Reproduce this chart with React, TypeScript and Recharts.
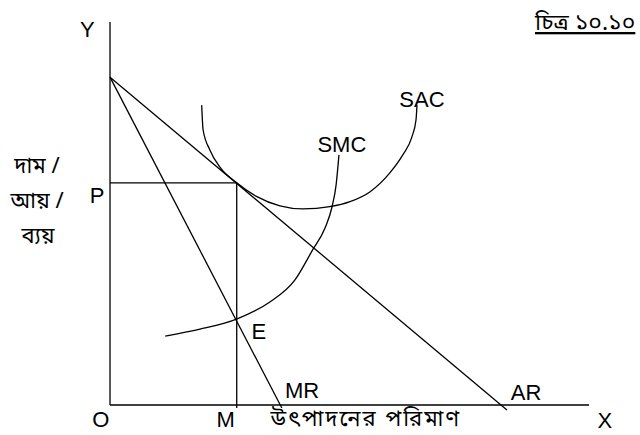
import React from 'react';
import { LineChart, Line, XAxis, YAxis, ReferenceDot } from 'recharts';

// quantity on x, price / revenue / cost on y (drawing units)
const yAxisLine = [
  { x: 0, y: 0 },
  { x: 0, y: 100 },
];
const xAxisLine = [
  { x: 0, y: 0 },
  { x: 99.8, y: 0 },
];
const arLine = [
  { x: 0, y: 85.6 },
  { x: 82.7, y: -1.3 },
];
const mrLine = [
  { x: 0, y: 85.6 },
  { x: 35.8, y: -0.8 },
];
const priceLine = [
  { x: 0, y: 58.0 },
  { x: 26.4, y: 58.0 },
];
const quantityLine = [
  { x: 26.4, y: 58.0 },
  { x: 26.4, y: -0.8 },
];
const sacCurve = [
  { x: 19.1, y: 78.3 },
  { x: 19.4, y: 71.8 },
  { x: 20.8, y: 66.6 },
  { x: 22.9, y: 62.1 },
  { x: 26.4, y: 58.0 },
  { x: 30.6, y: 54.4 },
  { x: 35.4, y: 52.0 },
  { x: 40.2, y: 51.2 },
  { x: 45.8, y: 51.8 },
  { x: 50.0, y: 53.1 },
  { x: 54.2, y: 55.7 },
  { x: 58.3, y: 60.6 },
  { x: 61.0, y: 65.3 },
  { x: 62.9, y: 70.0 },
  { x: 63.75, y: 74.4 },
  { x: 63.96, y: 78.3 },
];
const smcCurve = [
  { x: 11.5, y: 18.0 },
  { x: 18.75, y: 19.8 },
  { x: 26.5, y: 22.5 },
  { x: 33.3, y: 26.9 },
  { x: 38.5, y: 32.6 },
  { x: 42.3, y: 40.7 },
  { x: 44.8, y: 46.2 },
  { x: 46.25, y: 51.7 },
  { x: 47.1, y: 57.4 },
  { x: 47.7, y: 65.3 },
];

const LATIN = "'Liberation Sans', Arial, sans-serif";
const BENGALI = "'Noto Sans Bengali', 'Noto Serif Bengali', 'Lohit Bengali', sans-serif";

const labels = [
  { text: 'Y', x: -4.7, y: 96.1, size: 22, font: LATIN },
  { text: 'SAC', x: 65, y: 77.8, size: 22, font: LATIN },
  { text: 'SMC', x: 48.3, y: 66.1, size: 22, font: LATIN },
  { text: 'P', x: -2.7, y: 52.7, size: 22, font: LATIN },
  { text: 'E', x: 31.0, y: 17.2, size: 22, font: LATIN },
  { text: 'MR', x: 40, y: 1.8, size: 22, font: LATIN },
  { text: 'AR', x: 86.7, y: 1.3, size: 22, font: LATIN },
  { text: 'O', x: -1.9, y: -5.7, size: 22, font: LATIN },
  { text: 'M', x: 24.1, y: -5.7, size: 22, font: LATIN },
  { text: 'X', x: 103.1, y: -6.0, size: 22, font: LATIN },
  { text: 'চিত্র ১০.১০', x: 99, y: 97.9, size: 23, font: BENGALI, underline: true },
  { text: 'দাম /', x: -15.2, y: 60.6, size: 22, font: BENGALI },
  { text: 'আয় /', x: -15.2, y: 51.4, size: 22, font: BENGALI },
  { text: 'ব্যয়', x: -15, y: 42.3, size: 22, font: BENGALI },
  { text: 'উৎপাদনের পরিমাণ', x: 53.3, y: -5.4, size: 22, font: BENGALI, spacing: 2 },
];

const X_DOMAIN = [-22.92, 110.42];
const Y_DOMAIN = [-7.83, 105.74];

const straight = [yAxisLine, xAxisLine, arLine, mrLine, priceLine, quantityLine];
const curves = [sacCurve, smcCurve];

export default function App() {
  return (
    <div style={{ position: 'absolute', left: 0, top: 0, width: 640, height: 435, background: '#fff' }}>
      <LineChart width={640} height={435} margin={{ top: 0, right: 0, bottom: 0, left: 0 }}>
        <XAxis type="number" dataKey="x" domain={X_DOMAIN} allowDataOverflow hide />
        <YAxis type="number" dataKey="y" domain={Y_DOMAIN} allowDataOverflow hide />
        {straight.map((d, i) => (
          <Line
            key={`seg-${i}`}
            data={d}
            dataKey="y"
            type="linear"
            stroke="#000"
            strokeWidth={1.3}
            dot={false}
            activeDot={false}
            isAnimationActive={false}
          />
        ))}
        {curves.map((d, i) => (
          <Line
            key={`curve-${i}`}
            data={d}
            dataKey="y"
            type="monotone"
            stroke="#000"
            strokeWidth={1.3}
            dot={false}
            activeDot={false}
            isAnimationActive={false}
          />
        ))}
        {labels.map((l, i) => (
          <ReferenceDot
            key={`lab-${i}`}
            x={l.x}
            y={l.y}
            r={0}
            ifOverflow="visible"
            shape={(p: any) => (
              <text
                x={p.cx}
                y={p.cy}
                textAnchor="middle"
                fontSize={l.size}
                fontFamily={l.font}
                letterSpacing={l.spacing}
                fill="#000"
                style={l.underline ? { textDecoration: 'underline' } : undefined}
              >
                {l.text}
              </text>
            )}
          />
        ))}
      </LineChart>
    </div>
  );
}
